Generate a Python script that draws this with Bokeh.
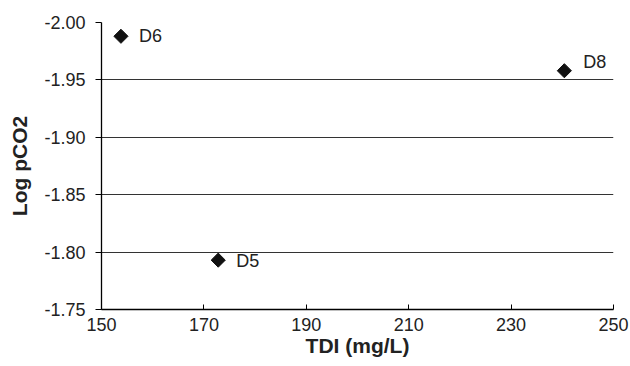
import math
from bokeh.plotting import figure
from bokeh.models import Range1d, FixedTicker, NumeralTickFormatter, ColumnDataSource
from bokeh.core.properties import value
from bokeh.embed import file_html
from bokeh.resources import INLINE

# data
labels = ["D6", "D5", "D8"]
tdi = [153.8, 172.8, 240.4]
log_pco2 = [-1.988, -1.793, -1.958]
x_ticks = [150, 170, 190, 210, 230, 250]
y_ticks = [-2.00, -1.95, -1.90, -1.85, -1.80, -1.75]

FONT = "Liberation Sans"

p = figure(width=630, height=366, output_backend="svg", toolbar_location=None,
           x_range=Range1d(150, 250), y_range=Range1d(-1.75, -2.00),
           min_border_left=101, min_border_right=17, min_border_top=22, min_border_bottom=57)
p.outline_line_color = None
p.background_fill_color = "white"

p.xaxis.ticker = FixedTicker(ticks=x_ticks)
p.yaxis.ticker = FixedTicker(ticks=y_ticks)
p.yaxis.formatter = NumeralTickFormatter(format="0.00")

for ax in (p.xaxis[0], p.yaxis[0]):
    ax.axis_line_color = "black"
    ax.axis_line_width = 1.3
    ax.major_tick_line_color = "black"
    ax.minor_tick_line_color = None
    ax.major_label_text_font = FONT
    ax.major_label_text_font_size = "18px"
    ax.major_label_text_color = "#222222"
    ax.axis_label_text_font = FONT
    ax.axis_label_text_font_style = "bold"
    ax.axis_label_text_font_size = "21px"
    ax.axis_label_text_color = "#222222"

p.xaxis.major_tick_in = 5
p.xaxis.major_tick_out = 0
p.xaxis.major_label_standoff = 8
p.xaxis.axis_label = "TDI (mg/L)"
p.xaxis.axis_label_standoff = 0

p.yaxis.major_tick_in = 0
p.yaxis.major_tick_out = 6
p.yaxis.major_label_standoff = 10
p.yaxis.axis_label = "Log pCO2"
p.yaxis.axis_label_standoff = 10

p.xgrid.grid_line_color = None
p.ygrid.grid_line_color = "#333333"
p.ygrid.grid_line_width = 1.2

src = ColumnDataSource(dict(x=tdi, y=log_pco2, label=labels))
p.scatter("x", "y", source=src, marker="square", size=10, angle=math.pi / 4,
          fill_color="#111111", line_color="#111111")

offsets = {"D6": (18, 0), "D5": (18, 1), "D8": (19, -8.5)}
for lab, xv, yv in zip(labels, tdi, log_pco2):
    dx, dy = offsets[lab]
    p.text(x=[xv], y=[yv], text=[lab], x_offset=dx, y_offset=dy,
           text_font=value(FONT), text_font_size="18px", text_color="#222222",
           text_baseline="middle", text_align="left")

open("out.html", "w").write(file_html(p, INLINE))
